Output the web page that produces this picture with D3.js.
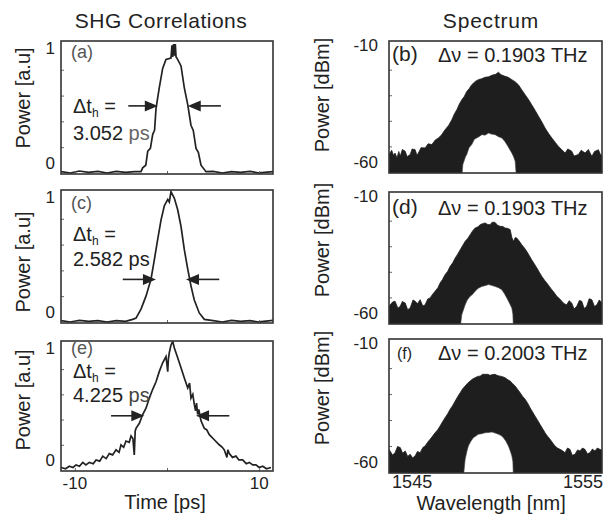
<!DOCTYPE html>
<html>
<head>
<meta charset="utf-8">
<script src="https://cdn.jsdelivr.net/npm/d3@7"></script>
<style>
  body { margin: 0; background: #fff; }
  text { font-family: "Liberation Sans", Arial, sans-serif; fill: #222; }
</style>
</head>
<body>
<svg id="fig" width="603" height="518"></svg>
<script>
// ---- data ----
// SHG autocorrelation traces: [time ps, normalised power]
var shgA = [[-11.5,0.01],[-10.5,0.0],[-9.5,0.015],[-8.5,0.005],[-7.5,0.012],[-6.5,0.0],[-5.5,0.012],[-4.5,0.004],
  [-3.5,0.01],[-2.82,0.01],[-2.64,0.04],[-2.3,0.06],[-2.09,0.17],[-1.8,0.19],[-1.55,0.30],[-1.35,0.33],[-1.19,0.50],
  [-0.84,0.66],[-0.47,0.81],[-0.11,0.88],[0.43,0.89],[0.54,0.99],[0.62,0.90],[0.72,1.0],[0.82,0.91],[0.9,1.0],
  [0.98,0.90],[1.08,0.89],[1.52,0.83],[1.88,0.66],[2.25,0.53],[2.60,0.37],[2.85,0.33],[3.15,0.19],[3.4,0.16],
  [3.69,0.06],[4.23,0.01],[5,0.012],[6,0.0],[7,0.01],[8,0.004],[9,0.012],[10,0.0],[11.5,0.01]];
var shgC = [[-11.5,0.01],[-10.5,0.0],[-9.5,0.012],[-8.5,0.004],[-7.5,0.01],[-6.5,0.0],[-5.5,0.01],[-4.5,0.005],
  [-3.72,0.02],[-3.36,0.03],[-2.82,0.10],[-2.28,0.20],[-1.74,0.33],[-1.38,0.48],[-1.01,0.64],[-0.65,0.79],
  [-0.29,0.90],[0.08,0.95],[0.25,0.93],[0.43,1.01],[0.79,0.96],[1.16,0.87],[1.52,0.74],[1.88,0.56],[2.25,0.41],
  [2.60,0.28],[2.96,0.17],[3.50,0.07],[4.05,0.02],[5,0.01],[6,0.0],[7,0.012],[8,0.004],[9,0.01],[10,0.0],[11.5,0.012]];
var shgE = [[-11.5,0.02],[-11,0.01],[-10.6,0.03],[-10.2,0.02],[-9.87,0.04],[-9.5,0.03],[-9.14,0.06],[-8.8,0.04],
  [-8.43,0.06],[-8.0,0.05],[-7.7,0.08],[-7.3,0.07],[-6.97,0.11],[-6.6,0.09],[-6.26,0.13],[-5.9,0.12],[-5.53,0.16],
  [-5.2,0.14],[-4.99,0.20],[-4.7,0.18],[-4.45,0.23],[-4.1,0.22],[-3.9,0.27],[-3.7,0.25],[-3.55,0.12],[-3.45,0.31],
  [-3.36,0.33],[-3.0,0.37],[-2.64,0.44],[-2.28,0.49],[-1.92,0.57],[-1.55,0.64],[-1.19,0.70],[-0.84,0.78],
  [-0.47,0.85],[-0.11,0.90],[0.08,0.78],[0.15,0.88],[0.25,0.93],[0.43,0.99],[0.62,1.02],[0.79,0.97],[1.16,0.89],
  [1.52,0.81],[1.88,0.73],[2.25,0.65],[2.45,0.69],[2.60,0.57],[2.8,0.60],[2.96,0.52],[3.1,0.47],[3.2,0.53],
  [3.33,0.44],[3.45,0.48],[3.69,0.39],[4.05,0.33],[4.3,0.32],[4.59,0.28],[5.13,0.24],[5.67,0.20],[6.0,0.18],
  [6.21,0.16],[6.5,0.10],[6.6,0.16],[6.76,0.13],[7.1,0.10],[7.48,0.11],[7.8,0.08],[8.21,0.08],[8.6,0.05],
  [8.93,0.06],[9.3,0.04],[9.65,0.04],[10.0,0.02],[10.38,0.03],[10.8,0.01],[11.28,0.02]];

// FWHM labels and arrow positions (arrow level, left arrow from/to, right arrow from/to)
var fwhmValues = ["3.052", "2.582", "4.225"];
var arrowLevels = [0.52, 0.33, 0.43];
var arrowSpans = [[-4.2, -1.0, 5.85, 2.25], [-4.8, -1.2, 5.67, 2.06], [-6.07, -2.46, 6.76, 3.15]];

// optical spectra: upper edge and inner (lower) edge of the dark band, [wavelength nm, dBm]
var specBUpper = [[1543.7,-53.2],[1543.85,-51.5],[1543.95,-53.5],[1544.04,-52.6],[1544.15,-54.5],[1544.25,-52.0],
  [1544.33,-53.9],[1544.45,-51.2],[1544.61,-51.9],[1544.72,-54.0],[1544.89,-53.2],[1545.0,-51.0],[1545.17,-51.3],
  [1545.27,-53.5],[1545.35,-52.6],[1545.5,-50.5],[1545.73,-50.6],[1545.9,-49.0],[1546.11,-49.3],[1546.3,-47.5],
  [1546.48,-46.7],[1546.65,-45.5],[1546.85,-43.5],[1547.05,-41.8],[1547.23,-39.6],[1547.38,-37.2],[1547.51,-35.7],
  [1547.65,-33.5],[1547.79,-31.8],[1547.93,-30.5],[1548.07,-28.5],[1548.2,-27.5],[1548.35,-25.9],[1548.55,-24.6],
  [1548.72,-23.9],[1548.9,-23.6],[1549.10,-23.0],[1549.3,-22.8],[1549.48,-22.2],[1549.7,-21.8],[1549.85,-21.0],
  [1550.0,-22.0],[1550.22,-22.6],[1550.4,-23.0],[1550.60,-23.9],[1550.8,-24.8],[1550.97,-25.9],[1551.15,-27.8],
  [1551.35,-29.8],[1551.55,-31.8],[1551.72,-33.7],[1551.9,-35.8],[1552.10,-38.2],[1552.3,-40.6],[1552.47,-42.8],
  [1552.65,-44.8],[1552.85,-46.7],[1553.05,-48.5],[1553.22,-50.0],[1553.4,-51.2],[1553.60,-52.6],[1553.75,-51.0],
  [1553.97,-51.9],[1554.1,-53.8],[1554.34,-53.2],[1554.5,-51.5],[1554.72,-52.6],[1554.9,-51.2],[1555.10,-53.9],
  [1555.25,-52.0],[1555.47,-51.3],[1555.6,-53.5],[1555.8,-53.2]];
var specBLower = [[1543.7,-62],[1547.79,-62],[1547.85,-57.1],[1548.0,-54.0],[1548.07,-53.2],[1548.2,-50.5],
  [1548.35,-49.3],[1548.5,-47.2],[1548.63,-46.7],[1548.8,-46.0],[1548.92,-45.4],[1549.1,-45.6],[1549.29,-44.8],
  [1549.45,-45.2],[1549.66,-45.4],[1549.85,-46.2],[1550.04,-46.7],[1550.2,-48.0],[1550.32,-49.3],[1550.45,-50.8],
  [1550.60,-52.6],[1550.7,-54.0],[1550.79,-55.8],[1550.86,-62],[1555.8,-62]];

var specDUpper = [[1543.7,-53.5],[1543.9,-51.8],[1544.04,-51.5],[1544.2,-54.2],[1544.33,-53.5],[1544.45,-51.6],
  [1544.61,-52.2],[1544.75,-54.8],[1544.89,-54.1],[1545.05,-51.0],[1545.17,-51.5],[1545.3,-52.5],[1545.45,-50.9],
  [1545.6,-53.4],[1545.73,-52.9],[1545.88,-50.6],[1546.01,-50.2],[1546.15,-48.8],[1546.29,-47.6],[1546.45,-46.2],
  [1546.57,-44.4],[1546.7,-43.1],[1546.85,-41.1],[1547.0,-39.8],[1547.13,-37.9],[1547.28,-36.5],[1547.42,-34.6],
  [1547.55,-33.2],[1547.70,-31.4],[1547.85,-29.6],[1547.98,-28.1],[1548.12,-27.0],[1548.26,-25.5],[1548.4,-24.0],
  [1548.54,-22.9],[1548.7,-22.4],[1548.82,-21.6],[1548.95,-21.2],[1549.10,-20.9],[1549.25,-21.5],[1549.38,-21.6],
  [1549.5,-20.6],[1549.66,-20.7],[1549.8,-21.8],[1549.94,-22.2],[1550.1,-22.3],[1550.22,-22.9],[1550.35,-23.0],
  [1550.51,-23.5],[1550.6,-26.5],[1550.69,-28.1],[1550.8,-26.6],[1550.88,-26.8],[1551.02,-28.0],[1551.16,-29.4],
  [1551.3,-30.6],[1551.44,-32.0],[1551.58,-33.6],[1551.72,-35.3],[1551.86,-36.8],[1552.01,-38.5],[1552.15,-40.2],
  [1552.29,-41.8],[1552.43,-43.2],[1552.57,-44.4],[1552.7,-45.6],[1552.85,-47.0],[1553.0,-48.3],[1553.13,-49.6],
  [1553.27,-50.4],[1553.41,-51.5],[1553.55,-52.5],[1553.69,-52.9],[1553.82,-51.3],[1553.97,-52.2],[1554.1,-54.5],
  [1554.25,-53.5],[1554.4,-51.2],[1554.53,-51.5],[1554.67,-54.3],[1554.81,-53.5],[1554.95,-50.5],[1555.10,-50.9],
  [1555.25,-53.6],[1555.38,-52.9],[1555.52,-51.0],[1555.66,-52.2],[1555.8,-52.2]];
var specDLower = [[1543.7,-62],[1547.70,-62],[1547.79,-56.8],[1547.9,-54.5],[1547.98,-52.9],[1548.1,-51.0],
  [1548.26,-49.6],[1548.4,-48.8],[1548.54,-47.6],[1548.7,-46.5],[1548.92,-45.7],[1549.1,-45.4],[1549.29,-45.0],
  [1549.45,-45.3],[1549.66,-45.7],[1549.85,-46.2],[1550.04,-47.0],[1550.18,-48.5],[1550.32,-50.2],[1550.45,-52.0],
  [1550.60,-54.1],[1550.66,-56.5],[1550.69,-62],[1555.8,-62]];

var specFUpper = [[1543.7,-51.3],[1543.9,-53.5],[1544.04,-52.6],[1544.18,-50.2],[1544.33,-50.6],[1544.47,-52.8],
  [1544.61,-51.9],[1544.75,-54.0],[1544.89,-53.2],[1545.03,-54.6],[1545.17,-53.8],[1545.3,-52.1],[1545.45,-52.6],
  [1545.6,-50.6],[1545.73,-50.0],[1545.88,-48.5],[1546.01,-47.4],[1546.15,-46.2],[1546.29,-44.9],[1546.43,-43.8],
  [1546.57,-42.3],[1546.7,-40.8],[1546.85,-39.1],[1547.0,-37.6],[1547.13,-35.9],[1547.28,-34.4],[1547.42,-32.7],
  [1547.56,-31.0],[1547.70,-29.5],[1547.84,-28.0],[1547.98,-26.9],[1548.12,-25.8],[1548.26,-25.0],[1548.4,-24.2],
  [1548.54,-23.7],[1548.68,-23.2],[1548.82,-23.1],[1548.96,-22.4],[1549.10,-22.4],[1549.25,-22.4],[1549.38,-22.8],
  [1549.52,-22.5],[1549.66,-22.4],[1549.8,-22.9],[1549.94,-23.1],[1550.08,-23.3],[1550.22,-23.7],[1550.36,-24.4],
  [1550.51,-25.0],[1550.65,-26.0],[1550.79,-26.9],[1550.93,-28.2],[1551.07,-29.5],[1551.2,-30.8],[1551.35,-32.0],
  [1551.5,-33.6],[1551.63,-35.3],[1551.77,-36.9],[1551.91,-38.5],[1552.05,-40.1],[1552.19,-41.7],[1552.33,-43.3],
  [1552.47,-44.9],[1552.6,-46.2],[1552.75,-47.4],[1552.9,-48.8],[1553.03,-50.0],[1553.17,-50.8],[1553.31,-51.3],
  [1553.45,-51.8],[1553.59,-52.6],[1553.73,-50.8],[1553.87,-51.3],[1554.0,-53.6],[1554.15,-53.2],[1554.3,-51.5],
  [1554.43,-51.9],[1554.57,-50.8],[1554.71,-51.3],[1554.85,-53.0],[1554.99,-52.6],[1555.13,-51.2],[1555.27,-51.9],
  [1555.41,-50.8],[1555.55,-51.3],[1555.8,-52.0]];
var specFLower = [[1543.7,-62],[1547.88,-62],[1547.98,-55.1],[1548.08,-52.0],[1548.16,-50.0],[1548.3,-48.2],
  [1548.44,-46.8],[1548.58,-46.2],[1548.72,-45.5],[1548.9,-45.3],[1549.10,-44.9],[1549.3,-44.8],[1549.48,-44.6],
  [1549.66,-45.0],[1549.85,-45.5],[1550.0,-46.0],[1550.13,-46.8],[1550.27,-48.2],[1550.41,-50.0],[1550.52,-52.0],
  [1550.60,-53.8],[1550.66,-56.0],[1550.69,-62],[1555.8,-62]];

var linewidths = ["0.1903", "0.1903", "0.2003"];

// axis settings
var timeDomain = [-11.5, 11.5];
var shgDomain = [-0.008, 1.023];
var wlDomain = [1543.7, 1555.67];
var dbmDomain = [-60.4, -8.8];
var timeTicks = [-10, 10];
var wlTicks = [1545, 1555];

// ---- layout ----
var leftPanels = [
  { tag: "(a)", data: shgA, x0: 61, x1: 273, y0: 41, y1: 174, tagY: 17, dtY: 72, valY: 99, ylab: 98, psColor: "#666" },
  { tag: "(c)", data: shgC, x0: 61, x1: 273, y0: 190, y1: 323, tagY: 19, dtY: 51, valY: 76, ylab: 262, psColor: "#222" },
  { tag: "(e)", data: shgE, x0: 61, x1: 273, y0: 341, y1: 471, tagY: 13, dtY: 37, valY: 61, ylab: 400, psColor: "#444" }
];
var rightPanels = [
  { tag: "(b)", upper: specBUpper, lower: specBLower, x0: 389, x1: 602, y0: 41, y1: 173, tagSize: 21, tagY: 20, ylab: 95 },
  { tag: "(d)", upper: specDUpper, lower: specDLower, x0: 389, x1: 602, y0: 192, y1: 324, tagSize: 21, tagY: 22, ylab: 240 },
  { tag: "(f)", upper: specFUpper, lower: specFLower, x0: 389, x1: 602, y0: 339, y1: 473, tagSize: 16, tagY: 20, ylab: 388 }
];

var svg = d3.select("#fig");

svg.append("text").attr("x", 161).attr("y", 28).attr("text-anchor", "middle")
  .style("font-size", "21px").style("letter-spacing", "0.5px").text("SHG Correlations");
svg.append("text").attr("x", 491).attr("y", 28).attr("text-anchor", "middle")
  .style("font-size", "21px").style("letter-spacing", "0.8px").text("Spectrum");

function arrow(g, xFrom, xTo, yy) {
  var dir = xTo > xFrom ? 1 : -1;
  g.append("line").attr("x1", xFrom).attr("x2", xTo - dir * 10).attr("y1", yy).attr("y2", yy)
    .attr("stroke", "#222").attr("stroke-width", 1.6);
  g.append("path")
    .attr("d", "M" + xTo + "," + yy + "L" + (xTo - dir * 13) + "," + (yy - 5.5) + "L" + (xTo - dir * 13) + "," + (yy + 5.5) + "Z")
    .attr("fill", "#222");
}

function yTitle(x, yc, label) {
  svg.append("text").attr("transform", "translate(" + x + "," + yc + ") rotate(-90)")
    .attr("text-anchor", "middle").attr("dy", "0.35em")
    .style("font-size", "20px").text(label);
}

// ---- SHG panels ----
leftPanels.forEach(function(p, i) {
  var w = p.x1 - p.x0, h = p.y1 - p.y0;
  var x = d3.scaleLinear().domain(timeDomain).range([0, w]);
  var y = d3.scaleLinear().domain(shgDomain).range([h, 0]);
  var g = svg.append("g").attr("transform", "translate(" + p.x0 + "," + p.y0 + ")");

  var clipId = "clipL" + i;
  g.append("clipPath").attr("id", clipId).append("rect").attr("width", w).attr("height", h);

  g.append("path").datum(p.data)
    .attr("clip-path", "url(#" + clipId + ")")
    .attr("d", d3.line().x(function(d) { return x(d[0]); }).y(function(d) { return y(d[1]); }))
    .attr("fill", "none").attr("stroke", "#222").attr("stroke-width", 1.7);

  // small inner ticks
  var yt = g.append("g").call(d3.axisRight(y).tickValues([0.2, 0.4, 0.6, 0.8]).tickSize(3).tickFormat(""));
  yt.select(".domain").remove();
  yt.selectAll("line").attr("stroke", "#666");
  var xt = g.append("g").attr("transform", "translate(0," + h + ")")
    .call(d3.axisTop(x).tickValues([-10, 0, 10]).tickSize(3).tickFormat(""));
  xt.select(".domain").remove();
  xt.selectAll("line").attr("stroke", "#666");

  g.append("rect").attr("width", w).attr("height", h)
    .attr("fill", "none").attr("stroke", "#333").attr("stroke-width", 1.6);

  // y tick labels
  g.append("text").attr("x", -6).attr("y", y(1) + 4).attr("dy", "0.35em").attr("text-anchor", "end")
    .style("font-size", "17px").text("1");
  g.append("text").attr("x", -6).attr("y", y(0) - 10).attr("dy", "0.35em").attr("text-anchor", "end")
    .style("font-size", "17px").text("0");

  g.append("text").attr("x", 10).attr("y", p.tagY).style("font-size", "18px").style("fill", "#555").text(p.tag);

  var dt = g.append("text").attr("x", 12).attr("y", p.dtY).style("font-size", "20px");
  dt.append("tspan").text("\u0394t");
  dt.append("tspan").attr("dy", 4).style("font-size", "12px").text("h");
  dt.append("tspan").attr("dy", -4).text(" =");
  var val = g.append("text").attr("x", 12).attr("y", p.valY).style("font-size", "20px");
  val.append("tspan").text(fwhmValues[i] + " ");
  val.append("tspan").style("fill", p.psColor).text("ps");

  var s = arrowSpans[i], ay = y(arrowLevels[i]);
  arrow(g, x(s[0]), x(s[1]), ay);
  arrow(g, x(s[2]), x(s[3]), ay);

  yTitle(23, p.ylab, "Power [a.u]");

  if (i === leftPanels.length - 1) {
    timeTicks.forEach(function(t) {
      g.append("text").attr("x", x(t)).attr("y", h + 18).attr("text-anchor", "middle")
        .style("font-size", "17px").text(t < 0 ? "-" + Math.abs(t) : t);
    });
    g.append("text").attr("x", w / 2 - 2).attr("y", h + 38).attr("text-anchor", "middle")
      .style("font-size", "20px").text("Time [ps]");
  }
});

// ---- spectrum panels ----
rightPanels.forEach(function(p, i) {
  var w = p.x1 - p.x0, h = p.y1 - p.y0;
  var x = d3.scaleLinear().domain(wlDomain).range([0, w]);
  var y = d3.scaleLinear().domain(dbmDomain).range([h, 0]);
  var g = svg.append("g").attr("transform", "translate(" + p.x0 + "," + p.y0 + ")");

  var clipId = "clipR" + i;
  g.append("clipPath").attr("id", clipId).append("rect").attr("width", w).attr("height", h);
  var plot = g.append("g").attr("clip-path", "url(#" + clipId + ")");

  var area = d3.area()
    .x(function(d) { return x(d[0]); })
    .y0(h + 2)
    .y1(function(d) { return y(d[1]); });

  plot.append("path").datum(p.upper).attr("d", area).attr("fill", "#1e1e1e")
    .attr("stroke", "#1e1e1e").attr("stroke-width", 0.8);
  plot.append("path").datum(p.lower).attr("d", area).attr("fill", "#fff")
    .attr("stroke", "#444").attr("stroke-width", 0.6);

  var yt = g.append("g").call(d3.axisRight(y).tickValues([-20, -30, -40, -50]).tickSize(3).tickFormat(""));
  yt.select(".domain").remove();
  yt.selectAll("line").attr("stroke", "#666");

  g.append("rect").attr("width", w).attr("height", h)
    .attr("fill", "none").attr("stroke", "#333").attr("stroke-width", 1.6);

  g.append("text").attr("x", -11).attr("y", y(-10) + 1).attr("dy", "0.35em").attr("text-anchor", "end")
    .style("font-size", "17px").text("-10");
  g.append("text").attr("x", -11).attr("y", y(-60) - 10).attr("dy", "0.35em").attr("text-anchor", "end")
    .style("font-size", "17px").text("-60");

  g.append("text").attr("x", p.tagSize > 18 ? 3 : 8).attr("y", p.tagY)
    .style("font-size", p.tagSize + "px").text(p.tag);
  g.append("text").attr("x", 49).attr("y", p.tagY + 1).style("font-size", "20px")
    .text("\u0394\u03BD = " + linewidths[i] + " THz");

  yTitle(322, p.ylab, "Power [dBm]");

  if (i === rightPanels.length - 1) {
    wlTicks.forEach(function(t, k) {
      var last = k === wlTicks.length - 1;
      g.append("text").attr("x", last ? w + 1 : x(t)).attr("y", h + 15)
        .attr("text-anchor", last ? "end" : "middle")
        .style("font-size", "18px").text(t);
    });
    g.append("text").attr("x", x(1550) - 10).attr("y", h + 37).attr("text-anchor", "middle")
      .style("font-size", "20px").text("Wavelength [nm]");
  }
});
</script>
</body>
</html>
